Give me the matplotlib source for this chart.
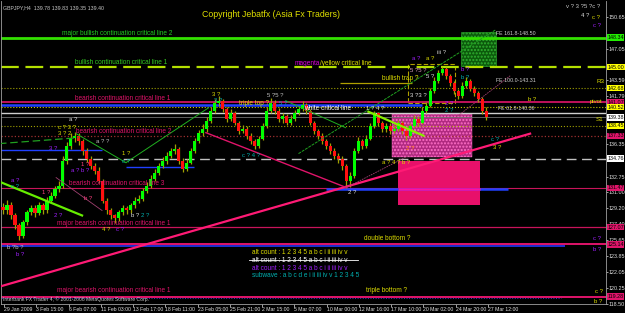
import numpy as np
import matplotlib
matplotlib.use("Agg")
import matplotlib.pyplot as plt
from matplotlib.patches import Rectangle
from matplotlib.transforms import blended_transform_factory
from matplotlib import font_manager

plt.rcParams['font.family'] = ['Liberation Sans', 'DejaVu Sans']
names = {f.name for f in font_manager.fontManager.ttflist}
narrow = 'Liberation Sans Narrow' if 'Liberation Sans Narrow' in names else 'Liberation Sans'

# GBPJPY H4 (one candle per two bars)
first_open = 129.30
closes = [128.94, 129.50, 128.38, 127.26, 126.03, 127.60, 128.72, 129.17, 128.61, 129.50,
          128.94, 130.06, 130.62, 131.40, 131.74, 134.54, 136.21, 137.11, 137.33, 136.77,
          135.66, 134.76, 133.98, 133.42, 132.30, 130.06, 128.94, 128.38, 128.05, 128.72,
          129.17, 128.94, 129.50, 130.06, 130.28, 131.18, 131.74, 132.52, 133.19, 133.98,
          134.54, 135.10, 135.66, 135.88, 134.54, 133.64, 134.31, 135.66, 136.77, 137.67,
          138.12, 139.01, 140.13, 141.03, 141.25, 140.35, 139.24, 139.91, 138.79, 137.89,
          138.12, 137.33, 136.77, 136.21, 137.00, 138.45, 140.13, 141.03, 140.13, 139.24,
          139.57, 138.79, 139.24, 139.91, 140.35, 140.80, 140.13, 138.79, 137.89, 137.33,
          136.77, 136.21, 135.66, 135.10, 134.76, 133.98, 132.30, 132.86, 135.66, 136.77,
          136.21, 137.00, 138.45, 139.91, 138.79, 138.12, 138.45, 137.89, 138.12, 138.79,
          137.89, 137.33, 138.45, 139.24, 138.79, 140.13, 140.69, 142.37, 143.49, 144.38,
          144.83, 144.05, 143.26, 142.37, 141.81, 142.93, 143.49, 142.59, 142.14, 141.47,
          140.13, 139.40]
highs = [129.8, 130.1, 129.9, 128.7, 127.5, 127.9, 129.0, 129.6, 129.5, 129.9,
         129.8, 130.4, 131.0, 131.7, 132.3, 135.0, 136.6, 137.6, 137.8, 137.6,
         137.0, 136.0, 135.1, 134.3, 133.8, 132.5, 130.3, 129.2, 128.6, 129.0,
         129.5, 129.4, 129.8, 130.4, 130.7, 131.5, 132.1, 132.9, 133.6, 134.3,
         134.9, 135.5, 136.0, 136.4, 136.1, 134.8, 134.7, 136.0, 137.1, 138.0,
         138.6, 139.4, 140.5, 141.4, 141.8, 141.5, 140.6, 140.3, 140.1, 139.0,
         138.5, 138.4, 137.6, 137.0, 137.3, 138.8, 140.5, 141.6, 141.3, 140.4,
         139.9, 139.8, 139.6, 140.2, 140.7, 141.2, 141.0, 140.3, 139.0, 138.1,
         137.6, 137.0, 136.5, 135.9, 135.4, 135.0, 134.2, 133.3, 136.0, 137.2,
         137.0, 137.4, 138.8, 140.1, 140.0, 139.0, 138.8, 138.7, 138.5, 139.1,
         139.0, 138.1, 138.8, 139.6, 139.5, 140.5, 141.1, 142.7, 143.9, 144.7,
         145.0, 145.0, 144.3, 143.5, 142.6, 143.3, 143.9, 143.7, 142.9, 142.4,
         141.7, 140.5]
lows = [128.5, 128.6, 128.0, 126.9, 125.6, 125.9, 127.3, 128.4, 128.2, 128.4,
        128.6, 128.7, 129.8, 130.3, 131.0, 131.5, 134.2, 135.8, 136.6, 136.3,
        135.2, 134.4, 133.6, 133.0, 132.0, 129.8, 128.6, 128.0, 127.5, 127.8,
        128.4, 128.5, 128.7, 129.2, 129.8, 130.0, 130.9, 131.5, 132.2, 132.9,
        133.7, 134.2, 134.8, 135.3, 134.2, 133.3, 133.4, 134.1, 135.4, 136.5,
        137.3, 137.8, 138.8, 139.9, 140.7, 140.0, 138.9, 139.0, 138.5, 137.5,
        137.6, 137.0, 136.4, 135.8, 135.9, 136.8, 138.2, 139.9, 139.8, 138.9,
        138.8, 138.5, 138.5, 139.0, 139.6, 140.1, 139.8, 138.5, 137.5, 137.0,
        136.4, 135.8, 135.3, 134.7, 134.3, 133.5, 131.5, 131.6, 132.6, 135.4,
        135.8, 135.9, 136.8, 138.2, 138.4, 137.8, 137.8, 137.5, 137.6, 137.9,
        137.5, 136.9, 137.1, 138.2, 138.4, 138.6, 139.9, 140.5, 142.1, 143.2,
        144.1, 143.7, 142.9, 142.0, 141.4, 141.6, 142.7, 142.3, 141.8, 141.1,
        139.8, 139.1]

# horizontal levels: price, colour, style, width, right-axis tag colour
levels = [
    (148.34, '#33e000', '-', 2.0, '#22ee00'),
    (145.00, '#b4e000', (0, (8, 3)), 1.6, '#ffff00'),
    (142.68, '#a0a000', ':', 0.8, '#ffff00'),
    (141.07, '#e0146a', '-', 1.2, '#e0146a'),
    (140.52, '#c8c800', ':', 0.8, '#ffff00'),
    (139.90, '#d0d0d0', '-', 1.0, None),
    (139.38, '#707070', '-', 0.6, '#ffffff'),
    (138.45, '#a0a000', ':', 0.8, '#ffff00'),
    (137.33, '#a03030', ':', 0.9, '#e0146a'),
    (134.76, '#c0c0c0', (0, (7, 4)), 1.0, '#ffffff'),
    (131.47, '#c8145a', '-', 0.8, '#e0146a'),
    (127.07, '#c8145a', '-', 0.9, '#e0146a'),
    (125.14, '#e0146a', '-', 1.4, '#e0146a'),
    (119.28, '#e0146a', '-', 1.4, '#e0146a'),
]

# partial horizontal segments: price, start, end, colour, width, style
segments = [
    (140.77, -0.5, 105.3, '#2040ff', 1.8, '-'),
    (135.77, -0.5, 25.3, '#2040ff', 1.0, '-'),
    (133.79, 31.3, 48.3, '#2040ff', 1.0, '-'),
    (131.35, 81.3, 127.0, '#2040ff', 1.8, '-'),
    (131.35, 99.3, 120.0, '#ff10a0', 1.8, '-'),
    (124.91, -0.5, 141.3, '#2030d0', 1.4, '-'),
    (119.10, -0.5, 140.3, '#3040c0', 0.7, ':'),
    (143.26, 85.0, 103.0, '#b0a000', 0.9, '-'),
]

# trend lines: (x0, p0, x1, p1, colour, width, style)
trendlines = [
    (-0.5, 120.38, 132.5, 137.56, '#ff1a75', 1.6, '-'),
    (51.3, 137.67, 86.5, 131.51, '#e0146a', 1.0, '-'),
    (-0.5, 132.19, 20.3, 128.38, '#66ee00', 1.6, '-'),
    (92.0, 140.02, 105.8, 137.33, '#88ee00', 1.6, '-'),
    (18.8, 137.56, 31.3, 134.31, '#20b020', 0.7, '-'),
    (31.3, 134.31, 52.0, 140.47, '#20b020', 0.7, '-'),
    (74.5, 135.32, 123.8, 149.19, '#20a020', 0.7, (0, (3, 1))),
    (-0.5, 136.44, 19.5, 137.11, '#20a020', 0.9, (0, (6, 3))),
    (71.3, 141.25, 86.3, 138.23, '#20b020', 0.7, '-'),
    (86.5, 131.51, 104.5, 135.66, '#a04070', 0.6, (0, (2, 1))),
    (113.8, 139.35, 127.5, 144.05, '#a04070', 0.6, (0, (2, 1))),
    (13.8, 132.63, 25.3, 128.94, '#a04070', 0.6, '-'),
]

# labelled text: (text, x, price, colour, size)
texts = [
    ('major bullish continuation critical line 2', 15.3, 148.75, '#22cc22', 4.7),
    ('bullish continuation critical line 1', 18.5, 145.5, '#33cc22', 4.7),
    ('bearish continuation critical line 1', 18.5, 141.47, '#e0146a', 4.7),
    ('bearish continuation critical line 2', 18.8, 137.78, '#e0146a', 4.7),
    ('bearish continuation critical line 3', 17.0, 131.99, '#e0146a', 4.7),
    ('major bearish continuation critical line 1', 14.0, 127.52, '#e0146a', 4.7),
    ('major bearish continuation critical line 1', 14.0, 119.91, '#e0146a', 4.7),
    ('triple top ?', 59.5, 140.91, '#dddd00', 4.7),
    ('white critical line', 75.8, 140.35, '#ffffff', 4.7),
    ('magenta', 73.5, 145.39, '#dd00dd', 4.7),
    ('/yellow critical line', 80.0, 145.39, '#dddd00', 4.7),
    ('bullish trap ?', 95.5, 143.71, '#dddd00', 4.7),
    ('double bottom ?', 91.0, 125.81, '#dddd00', 4.7),
    ('triple bottom ?', 91.5, 119.99, '#dddd00', 4.7),
    ('alt count : 1 2 3 4 5 a b c i ii iii iv v', 62.8, 124.24, '#dddd00', 4.7),
    ('alt count : 1 2 3 4 5 a b c i ii iii iv v', 62.8, 123.35, '#ffffff', 4.7),
    ('alt count : 1 2 3 4 5 a b c i ii iii iv v', 62.8, 122.45, '#a020ff', 4.7),
    ('subwave : a b c d e i ii iii iv v 1 2 3 4 5', 62.8, 121.67, '#00b0b0', 4.7),
    ('FE 161.8-148.50', 124.0, 148.75, '#d0d0d0', 3.8),
    ('FE 100.0-143.31', 124.0, 143.49, '#d0d0d0', 3.8),
    ('FE 61.8-140.36', 124.5, 140.35, '#d0d0d0', 3.8),
    ('R3', 149.0, 143.38, '#dddd00', 4.5),
    ('pivot', 147.3, 141.14, '#dddd00', 4.3),
    ('S1', 149.0, 139.12, '#dddd00', 4.5),
]

# elliott wave counts: (text, x, price, colour)
waves = [
    ('v ? 3 ?5 ?c ?', 141.5, 151.77, '#c8c8c8'), ('4 ?', 145.3, 150.76, '#e0e0e0'),
    ('c ?', 148.0, 150.54, '#dddd00'), ('c ?', 148.3, 149.64, '#a020ff'),
    ('a ?', 102.8, 145.95, '#a020ff'), ('a ?', 106.5, 145.95, '#dddd00'),
    ('iii ?', 109.3, 146.62, '#d0d0d0'), ('5 ?5 ?', 102.5, 144.68, '#e0a0c0'),
    ('5 ?', 106.5, 143.94, '#e0e0e0'), ('b ?', 115.3, 144.72, '#a020ff'),
    ('b ?', 115.3, 143.82, '#00b0b0'), ('3 ?3 ?', 102.5, 141.81, '#e0e0e0'),
    ('2 ?', 111.3, 140.91, '#a020ff'), ('2 ?', 111.3, 140.13, '#00b0b0'),
    ('b ?', 132.0, 141.36, '#dddd00'),
    ('a ?', 17.0, 139.12, '#e0e0e0'), ('c ? 3 ?', 14.3, 138.23, '#dddd00'),
    ('3 ? 2', 14.3, 137.56, '#dddd00'), ('a ? ?', 23.8, 136.66, '#c0c0c0'),
    ('3 ?', 12.0, 135.88, '#a020ff'), ('a ? b ?', 17.5, 133.42, '#a020ff'),
    ('1 ?', 20.0, 134.09, '#ff4080'), ('1 ?', 30.3, 135.32, '#dddd00'),
    ('c ?', 30.3, 134.42, '#00b0b0'), ('a ?', 2.5, 132.30, '#a020ff'),
    ('c ?', 2.5, 131.63, '#00b0b0'), ('1 ?', 10.3, 130.96, '#ff4080'),
    ('b ?', 20.8, 130.28, '#ff4080'), ('2 ?', 13.3, 128.38, '#a020ff'),
    ('b ?', 32.5, 128.38, '#e0e0e0'), ('2 ?', 35.0, 128.38, '#00b0b0'),
    ('4 ?', 25.3, 126.82, '#dddd00'), ('c ?', 28.8, 126.82, '#a020ff'),
    ('b ?b ?', 1.5, 124.80, '#c0c0c0'), ('b ?', 3.8, 124.02, '#a020ff'),
    ('3 ?', 52.8, 141.92, '#dddd00'), ('3 ?', 53.3, 141.25, '#00b0b0'),
    ('5 ?5 ?', 66.5, 141.81, '#c0c0c0'), ('5 ?', 69.5, 140.91, '#00b0b0'),
    ('1 ? 4 ?', 91.3, 140.35, '#e0e0e0'), ('c ? 4 ?', 60.3, 135.10, '#00b0b0'),
    ('2 ?', 87.0, 130.96, '#e0e0e0'), ('a ? 4 ? b ?', 95.3, 134.31, '#dddd00'),
    ('c ?', 122.8, 136.89, '#00b0b0'), ('3 ?', 123.3, 135.99, '#dddd00'),
    ('2 ?', 101.3, 135.88, '#ff8000'),
    ('c ?', 148.3, 125.81, '#a020ff'), ('b ?', 148.3, 124.58, '#a020ff'),
    ('c ?', 148.8, 119.90, '#dddd00'), ('b ?', 148.5, 118.70, '#dddd00'),
]

price_ticks = [150.65, 147.05, 143.59, 141.79, 136.35, 132.75, 131.00, 129.20,
               127.40, 125.65, 123.85, 122.05, 120.25, 118.50]
date_labels = ['29 Jan 2009', '3 Feb 15:00', '6 Feb 07:00', '11 Feb 03:00', '13 Feb 17:00',
               '18 Feb 11:00', '23 Feb 05:00', '25 Feb 21:00', '2 Mar 15:00', '5 Mar 07:00',
               '10 Mar 00:00', '12 Mar 16:00', '17 Mar 10:00', '20 Mar 02:00', '24 Mar 20:00',
               '27 Mar 12:00']

fig = plt.figure(figsize=(6.25, 3.13), dpi=100, facecolor='black')
ax = fig.add_axes([0.0016, 9 / 313, 0.968, 1 - 10 / 313])
ax.set_facecolor('black')
ax.set_xlim(0, 151.5)
ax.set_ylim(118.45, 152.44)

n = len(closes)
xs = np.arange(n) + 0.5
opens = np.r_[first_open, closes[:-1]]
cl = np.array(closes)
up = cl >= opens
ax.vlines(xs, lows, highs, color='#a0a000', lw=0.9, zorder=3)
ax.bar(xs[up], cl[up] - opens[up], bottom=opens[up], width=0.8, color='#00ff00', lw=0, zorder=4)
ax.bar(xs[~up], opens[~up] - cl[~up], bottom=cl[~up], width=0.8, color='#ff1010', lw=0, zorder=4)

# boxes
ax.add_patch(Rectangle((115.3, 145.17), 8.7, 3.8, fc='#0c5a0c', ec='#30b030', hatch='.....', lw=0.4, zorder=2))
ax.add_patch(Rectangle((97.8, 134.98), 20.2, 4.82, fc='#b02a80', ec='#ff70c8', hatch='.....', lw=0.3, zorder=2))
ax.add_patch(Rectangle((99.3, 129.61), 20.7, 4.93, fc='#e8106a', ec='none', zorder=2))
# dashed olive bracket
ax.add_patch(Rectangle((102.0, 140.97), 11.8, 4.42, fill=False, ec='#b0a000', ls=(0, (4, 2)), lw=0.8, zorder=2))

for p, c, ls, lw, tag in levels:
    ax.axhline(p, color=c, ls=ls, lw=lw, zorder=2)
for p, x0, x1, c, lw, ls in segments:
    ax.plot([x0, x1], [p, p], color=c, lw=lw, ls=ls, zorder=2, solid_capstyle='butt')
for x0, p0, x1, p1, c, lw, ls in trendlines:
    ax.plot([x0, x1], [p0, p1], color=c, lw=lw, ls=ls, zorder=5)

for t, x, p, c, s in texts:
    ax.text(x, p, t, color=c, fontsize=s, va='center', ha='left', zorder=6)
ax.plot([62.0, 89.5], [123.35, 123.35], color='#ffffff', lw=0.6, zorder=6)
for t, x, p, c in waves:
    ax.text(x, p, t, color=c, fontsize=4.3, va='center', ha='left', zorder=6)

ax.text(67.7, 150.97, 'Copyright Jebatfx (Asia Fx Traders)', color='#e0e000',
        fontsize=6.3, ha='center', va='center')
ax.text(0.004, 0.985, 'GBPJPY,H4  139.78 139.83 139.35 139.40', transform=ax.transAxes,
        color='#c8c8c8', fontsize=3.8, va='top', ha='left')
ax.text(0.004, 118.95, 'Interbank FX Trader 4, \u00a9 2001-2008 MetaQuotes Software Corp.',
        transform=blended_transform_factory(ax.transAxes, ax.transData),
        color='#c8c8c8', fontsize=3.6, va='center', ha='left', zorder=7)

# axes styling
for s in ax.spines.values():
    s.set_color('#a0a0a0')
    s.set_linewidth(0.6)
ax.spines['top'].set_visible(False)
ax.yaxis.tick_right()
ax.set_yticks(price_ticks)
ax.set_yticklabels([f'{v:.2f}' for v in price_ticks], family=narrow)
ax.tick_params(axis='y', colors='#e0e0e0', labelsize=3.9, length=1.2, width=0.5, pad=0.4)
ax.set_xticks([0.75 + 8.08 * k for k in range(len(date_labels))])
ax.set_xticklabels(date_labels, ha='left', family=narrow)
ax.tick_params(axis='x', colors='#e0e0e0', labelsize=3.7, length=2, width=0.5, pad=0.5)

tr = blended_transform_factory(ax.transAxes, ax.transData)
for p, c, ls, lw, tag in levels:
    if tag:
        ax.text(1.002, p, f'{p:.2f}', transform=tr, color='black', fontsize=3.9, va='center',
                ha='left', clip_on=False, zorder=8, family=narrow,
                bbox=dict(boxstyle='square,pad=0.12', fc=tag, ec='none'))

fig.savefig('out.png', dpi=100, facecolor='black')
